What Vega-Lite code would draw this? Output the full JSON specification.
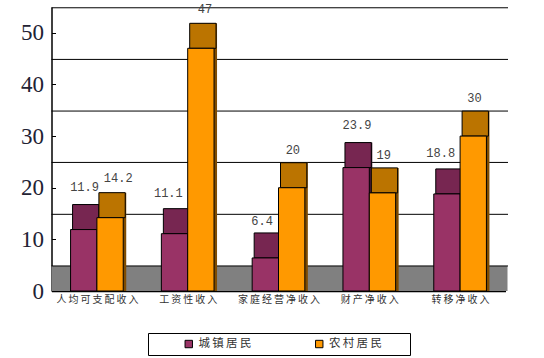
{"$schema":"https://vega.github.io/schema/vega-lite/v6.json","width":454,"height":284,"autosize":{"type":"none"},"padding":{"left":51.5,"top":7,"right":38.5,"bottom":67},"background":"white","config":{"view":{"stroke":null}},
"data":{"values":[
{"cat":"人均可支配收入","s":"城镇居民","v":11.9},{"cat":"人均可支配收入","s":"农村居民","v":14.2},
{"cat":"工资性收入","s":"城镇居民","v":11.1},{"cat":"工资性收入","s":"农村居民","v":47},
{"cat":"家庭经营净收入","s":"城镇居民","v":6.4},{"cat":"家庭经营净收入","s":"农村居民","v":20},
{"cat":"财产净收入","s":"城镇居民","v":23.9},{"cat":"财产净收入","s":"农村居民","v":19},
{"cat":"转移净收入","s":"城镇居民","v":18.8},{"cat":"转移净收入","s":"农村居民","v":30}]},
"resolve":{"scale":{"x":"independent","xOffset":"independent"},"axis":{"x":"independent"}},
"encoding":{
"x":{"field":"cat","type":"nominal","sort":null,"scale":{"domain":["人均可支配收入","工资性收入","家庭经营净收入","财产净收入","转移净收入"],"paddingInner":0.42,"paddingOuter":0.21},"axis":null},
"xOffset":{"field":"s","type":"nominal","scale":{"domain":["城镇居民","农村居民"],"paddingInner":0,"paddingOuter":0}}
},
"layer":[
{"data":{"values":[{"a":0,"b":4.85}]},"mark":{"type":"rect","fill":"#808080","xOffset":2,"x2Offset":2},"encoding":{"x":null,"xOffset":null,"y":{"field":"a","type":"quantitative","scale":{"domain":[0,55],"nice":false},"axis":{"title":null,"values":[0,10,20,30,40,50],"grid":false,"labelFont":"Liberation Serif","labelFontSize":23,"labelColor":"#223","tickSize":-4,"tickColor":"black","domainColor":"black","domainWidth":1.5,"labelPadding":12}},"y2":{"field":"b"}}},
{"data":{"values":[{"g":4.85},{"g":14.85},{"g":24.9},{"g":34.85},{"g":44.85},{"g":54.85}]},"mark":{"type":"rule","color":"black","strokeWidth":1,"xOffset":2.5,"x2Offset":3},"encoding":{"x":null,"xOffset":null,"y":{"field":"g","type":"quantitative"}}},
{"transform":[{"filter":"datum.s==='城镇居民'"}],"mark":{"type":"bar","fill":"#4a1c38","yOffset":-25},"encoding":{"x":{"field":"cat","type":"nominal","sort":null,"scale":{"paddingInner":0.42,"paddingOuter":0.21,"range":[3,457]},"axis":null},"y":{"field":"v","type":"quantitative"},"y2":{"datum":0}}},
{"transform":[{"filter":"datum.s==='城镇居民'"}],"mark":{"type":"bar","fill":"#772651","stroke":"black","strokeWidth":1,"yOffset":-25},"encoding":{"x":{"field":"cat","type":"nominal","sort":null,"scale":{"paddingInner":0.42,"paddingOuter":0.21,"range":[2,456]},"axis":null},"y":{"field":"v","type":"quantitative"},"y2":{"field":"v"}}},
{"transform":[{"filter":"datum.s==='城镇居民'"}],"mark":{"type":"bar","stroke":"black","strokeWidth":1},"encoding":{"x":{"field":"cat","type":"nominal","sort":null,"scale":{"paddingInner":0.42,"paddingOuter":0.21},"axis":{"title":null,"labelAngle":0,"labelFont":"Noto Sans CJK SC","labelFontSize":10,"labelColor":"#333","labelPadding":6,"tickBand":"extent","tickSize":-3,"tickColor":"black","domainColor":"black","domainWidth":1.5,"labelLimit":120,"labelExpr":"join(split(datum.label,''),'\u2009')"}},"y":{"field":"v","type":"quantitative"},"color":{"field":"s","type":"nominal","scale":{"domain":["城镇居民","农村居民"],"range":["#993366","#ff9900"]},"legend":{"title":null,"orient":"none","legendX":96.5,"legendY":326,"direction":"horizontal","columns":2,"fillColor":"white","strokeColor":"black","padding":5,"symbolType":"square","symbolSize":55,"symbolStrokeColor":"black","symbolStrokeWidth":1,"symbolOpacity":1,"symbolOffset":30,"labelFont":"Noto Sans CJK SC","labelFontSize":11.5,"labelColor":"#333","labelOffset":4,"columnPadding":8.5,"labelExpr":"join(split(datum.label,''),'\u2009')+'\u3000\u3000\u200b'","labelLimit":200}}}},
{"transform":[{"filter":"datum.s==='农村居民'"}],"mark":{"type":"bar","fill":"#7f4c00","yOffset":-25},"encoding":{"x":{"field":"cat","type":"nominal","sort":null,"scale":{"paddingInner":0.42,"paddingOuter":0.21,"range":[3,457]},"axis":null},"y":{"field":"v","type":"quantitative"},"y2":{"datum":0}}},
{"transform":[{"filter":"datum.s==='农村居民'"}],"mark":{"type":"bar","fill":"#bb7400","stroke":"black","strokeWidth":1,"yOffset":-25},"encoding":{"x":{"field":"cat","type":"nominal","sort":null,"scale":{"paddingInner":0.42,"paddingOuter":0.21,"range":[2,456]},"axis":null},"y":{"field":"v","type":"quantitative"},"y2":{"field":"v"}}},
{"transform":[{"filter":"datum.s==='农村居民'"}],"mark":{"type":"bar","stroke":"black","strokeWidth":1},"encoding":{"y":{"field":"v","type":"quantitative"},"color":{"field":"s","type":"nominal"}}},
{"transform":[{"filter":"datum.v===11.9||datum.v===23.9"}],"mark":{"type":"text","dy":-43,"dx":14,"font":"Liberation Mono","fontSize":12,"fill":"#444"},"encoding":{"y":{"field":"v","type":"quantitative"},"text":{"field":"v","type":"nominal"}}},
{"transform":[{"filter":"datum.v===11.1||datum.v===18.8"}],"mark":{"type":"text","dy":-41,"dx":7,"font":"Liberation Mono","fontSize":12,"fill":"#444"},"encoding":{"y":{"field":"v","type":"quantitative"},"text":{"field":"v","type":"nominal"}}},
{"transform":[{"filter":"datum.v===6.4"}],"mark":{"type":"text","dy":-37,"dx":10,"font":"Liberation Mono","fontSize":12,"fill":"#444"},"encoding":{"y":{"field":"v","type":"quantitative"},"text":{"field":"v","type":"nominal"}}},
{"transform":[{"filter":"datum.v===20||datum.v===19||datum.v===30"}],"mark":{"type":"text","dy":-38,"dx":-12,"font":"Liberation Mono","fontSize":12,"fill":"#444"},"encoding":{"y":{"field":"v","type":"quantitative"},"text":{"field":"v","type":"nominal"}}},
{"transform":[{"filter":"datum.v===47"}],"mark":{"type":"text","dy":-39,"dx":-9,"font":"Liberation Mono","fontSize":12,"fill":"#444"},"encoding":{"y":{"field":"v","type":"quantitative"},"text":{"field":"v","type":"nominal"}}},
{"transform":[{"filter":"datum.v===14.2"}],"mark":{"type":"text","dy":-40,"dx":-5,"font":"Liberation Mono","fontSize":12,"fill":"#444"},"encoding":{"y":{"field":"v","type":"quantitative"},"text":{"field":"v","type":"nominal"}}}
]}
